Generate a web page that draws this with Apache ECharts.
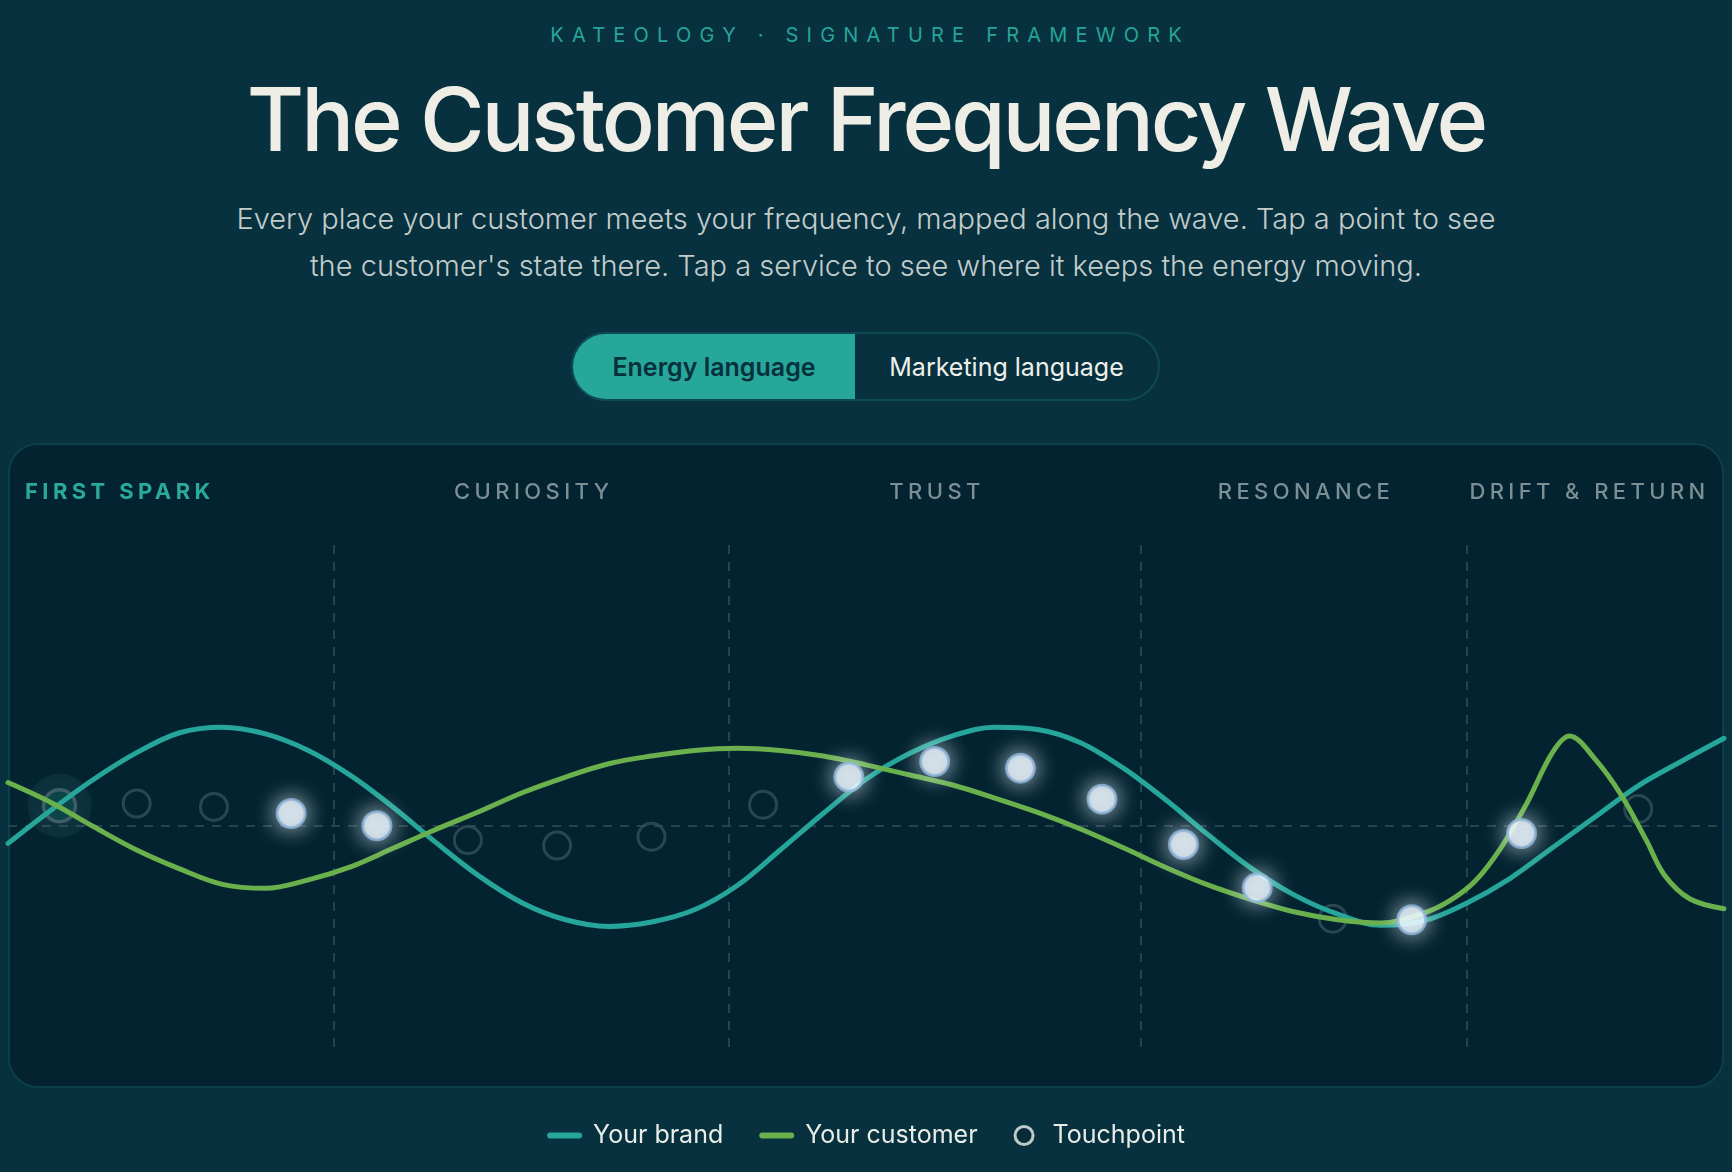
<!DOCTYPE html>
<html>
<head>
<meta charset="utf-8">
<title>The Customer Frequency Wave</title>
<script src="https://cdn.jsdelivr.net/npm/echarts@6/dist/echarts.min.js"></script>
<style>
  html, body { margin: 0; padding: 0; }
  body {
    width: 1732px; height: 1172px; overflow: hidden; position: relative;
    background: #07313e; font-family: Inter, "Noto Sans", sans-serif;
  }
  .eyebrow {
    position: absolute; top: 23px; left: 0; width: 100%; box-sizing: border-box;
    text-align: center; font-size: 20px; line-height: 24px; font-weight: 400;
    letter-spacing: 0.41em; padding-left: 0.41em; color: #27a498;
  }
  .title {
    position: absolute; top: 64px; left: 0; width: 100%; text-align: center;
    font-size: 88px; line-height: 110px; font-weight: 500; letter-spacing: -0.035em;
    color: #efeee6; white-space: nowrap;
  }
  .subtitle {
    position: absolute; top: 195px; left: 0; width: 100%; text-align: center;
    font-size: 29px; line-height: 47px; font-weight: 300; color: #c2cccb; white-space: nowrap;
  }
  .toggle {
    position: absolute; left: 571px; top: 332px; width: 589px; height: 69px;
    box-sizing: border-box; border: 2px solid #0e4a51; border-radius: 35px;
    overflow: hidden; display: flex; font-size: 25px;
  }
  .toggle div { display: flex; align-items: center; justify-content: center; }
  .toggle .on { width: 282px; background: #27a79a; color: #06303c; font-weight: 600; }
  .toggle .off { flex: 1; color: #eef0ea; font-weight: 400; }
  .card {
    position: absolute; left: 8px; top: 443px; width: 1716px; height: 645px;
    box-sizing: border-box; border: 2px solid #0c3f4a; border-radius: 30px; background: #032330;
  }
  #chart { position: absolute; left: 0; top: 0; width: 1732px; height: 1172px; }
  .stage {
    position: absolute; top: 478px; font-size: 22px; line-height: 26px; font-weight: 500;
    letter-spacing: 0.2em; color: #7b8f94; white-space: nowrap;
  }
  .stage.first { color: #2ba99c; font-weight: 700; }
</style>
</head>
<body>
<div class="eyebrow">KATEOLOGY · SIGNATURE FRAMEWORK</div>
<div class="title">The Customer Frequency Wave</div>
<div class="subtitle">Every place your customer meets your frequency, mapped along the wave. Tap a point to see<br>the customer's state there. Tap a service to see where it keeps the energy moving.</div>
<div class="toggle"><div class="on">Energy language</div><div class="off">Marketing language</div></div>
<div class="card"></div>
<div id="chart"></div>
<script>
// journey stages, split at x positions (0-100 along the wave)
const stageNames = ["FIRST SPARK", "CURIOSITY", "TRUST", "RESONANCE", "DRIFT & RETURN"];
const stageBreaks = [19, 42, 66, 85];

// brand wave
const brandX = [0, 2.5, 5, 7.5, 10, 12.5, 15, 17.5, 20, 22.5, 25, 27.5, 30, 32.5, 35, 37.5, 40, 42.5, 45, 47.5,
  50, 52.5, 55, 57.5, 60, 62.5, 65, 67.5, 70, 72.5, 75, 77.5, 80, 82.5, 85, 87.5, 90, 92.5, 95, 97.5, 100];
const brandY = [-8, 7, 21, 33, 42, 44.5, 41.5, 34, 22.5, 8, -8, -23, -35, -42.5, -45.5, -43.5, -38, -27, -11, 5.5,
  21, 32.5, 40.5, 44.5, 43.5, 37.5, 26, 11.5, -4.5, -19.5, -31.5, -40, -45, -43, -35, -24, -10, 4, 18, 29, 39.5];

// customer wave
const customerX = [0, 2.5, 5, 7.5, 10, 12.5, 15, 17.5, 20, 22.5, 25, 27.5, 30, 32.5, 35, 37.5, 40, 42.5, 45, 47.5,
  50, 52.5, 55, 57.5, 60, 62.5, 65, 67.5, 70, 72.5, 75, 77.5, 80, 82.5, 84, 85.5, 87, 88.5, 90, 91, 92.5, 94,
  95.5, 96.5, 98, 100];
const customerY = [19.5, 10.5, -0.5, -11, -19.5, -26.5, -28.3, -24.5, -18.5, -10, -1.5, 6.5, 15, 22, 28, 31.5, 34,
  35, 34, 31.5, 27.5, 23, 18.5, 12.5, 6, -1.5, -10, -19, -27, -33.5, -39, -42.5, -44, -39.5, -34, -25, -10, 10,
  33, 40.5, 30, 14, -7, -22, -33, -37.5];

// touchpoints
const touchX = [3, 7.5, 12, 16.5, 21.5, 26.8, 32, 37.5, 44, 49, 54, 59, 63.75, 68.5, 72.8, 77.2, 81.8, 88.2, 95];
const touchY = [9, 10, 8.5, 5.5, 0, -6.5, -9, -5, 9.5, 22, 29, 26, 12, -8.5, -28, -42, -42.5, -3.5, 7.5];
const touchState = ["selected", "idle", "idle", "lit", "lit", "idle", "idle", "idle", "idle", "lit",
  "lit", "lit", "lit", "lit", "lit", "idle", "lit", "lit", "idle"];

const legendNames = ["Your brand", "Your customer", "Touchpoint"];

const TEAL = "#26a69a";
const GREEN = "#6ab04c";
const barIcon = "path://M3,0 H32 A3,3 0 0 1 32,6 H3 A3,3 0 0 1 3,0 Z";

const pairs = (xs, ys) => xs.map((x, i) => [x, ys[i]]);

const idleData = [];
const litData = [];
const haloData = [];
touchX.forEach((x, i) => {
  const p = [x, touchY[i]];
  if (touchState[i] === "lit") {
    litData.push(p);
  } else if (touchState[i] === "selected") {
    haloData.push(p);
    idleData.push({
      value: p,
      symbolSize: 32,
      itemStyle: { color: "#0c4a4b", borderColor: "#4b6870", borderWidth: 3.5 },
    });
  } else {
    idleData.push(p);
  }
});

const chart = echarts.init(document.getElementById("chart"));

const option = {
  animation: false,
  grid: { left: 8, right: 8, top: 538, bottom: 125 },
  xAxis: { type: "value", min: 0, max: 100, show: false },
  yAxis: { type: "value", min: -100, max: 130, show: false },
  legend: {
    top: 1118,
    left: "center",
    itemWidth: 35,
    itemHeight: 18,
    itemGap: 36,
    selectedMode: false,
    textStyle: { color: "#e9ede8", fontSize: 25, fontFamily: "Inter", padding: [0, 0, 0, 6] },
    data: [
      { name: legendNames[0], icon: barIcon, itemStyle: { color: TEAL, borderWidth: 0 } },
      { name: legendNames[1], icon: barIcon, itemStyle: { color: GREEN, borderWidth: 0 } },
      { name: legendNames[2], icon: "circle",
        itemStyle: { color: "#062c38", borderColor: "#eef0ea", borderWidth: 3 } },
    ],
  },
  series: [
    {
      name: "halo",
      type: "scatter",
      z: 1,
      silent: true,
      symbolSize: 64,
      data: haloData,
      itemStyle: { color: "rgba(80,130,140,0.14)", shadowBlur: 14, shadowColor: "rgba(90,150,160,0.35)" },
    },
    {
      name: "Touchpoint",
      type: "scatter",
      z: 1,
      symbolSize: 27,
      data: idleData,
      itemStyle: { color: "rgba(0,0,0,0)", borderColor: "#33505a", borderWidth: 3 },
      markLine: {
        z: 0,
        silent: true,
        symbol: ["none", "none"],
        label: { show: false },
        lineStyle: { color: "#26444e", type: [9, 8], width: 2 },
        data: stageBreaks.map((b) => ({ xAxis: b })).concat([{ yAxis: 0 }]),
      },
    },
    {
      name: "Your brand",
      type: "line",
      z: 2,
      smooth: 0.35,
      showSymbol: false,
      data: pairs(brandX, brandY),
      itemStyle: { color: TEAL },
      lineStyle: { color: TEAL, width: 5, cap: "round" },
    },
    {
      name: "Your customer",
      type: "line",
      z: 2,
      smooth: 0.35,
      showSymbol: false,
      data: pairs(customerX, customerY),
      itemStyle: { color: GREEN },
      lineStyle: { color: GREEN, width: 5, cap: "round" },
    },
    {
      name: "Touchpoint",
      type: "scatter",
      z: 6,
      symbolSize: 28,
      data: litData,
      itemStyle: {
        color: "#eef8ff",
        borderColor: "#8fb5da",
        borderWidth: 3,
        shadowBlur: 22,
        shadowColor: "rgba(235,246,255,0.9)",
      },
    },
  ],
};

chart.setOption(option);

// stage labels: first hugs the left edge, last the right edge, the rest sit centred in their band
const edges = [0].concat(stageBreaks, [100]);
stageNames.forEach((name, i) => {
  const el = document.createElement("div");
  el.className = "stage" + (i === 0 ? " first" : "");
  el.textContent = name;
  document.body.appendChild(el);
  const x0 = chart.convertToPixel({ gridIndex: 0 }, [edges[i], 0])[0];
  const x1 = chart.convertToPixel({ gridIndex: 0 }, [edges[i + 1], 0])[0];
  const w = el.offsetWidth - 22 * 0.2;
  let left = (x0 + x1) / 2 - w / 2;
  if (i === 0) left = 25;
  if (i === stageNames.length - 1) left = 1705 - w;
  el.style.left = left + "px";
});
</script>
</body>
</html>
